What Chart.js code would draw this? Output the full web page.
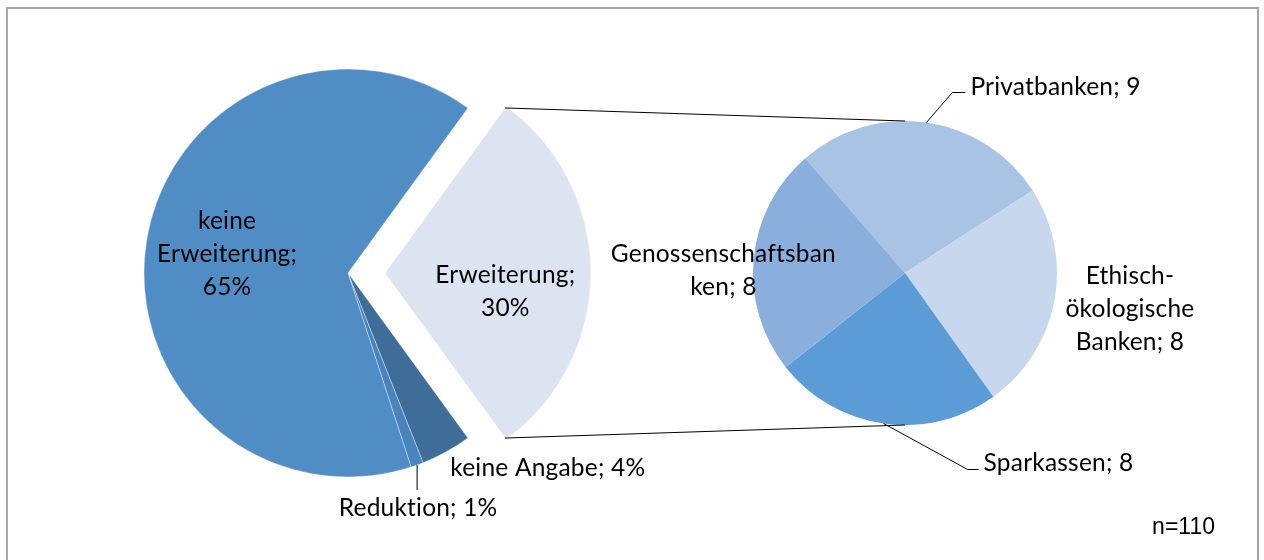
<!DOCTYPE html>
<html>
<head>
<meta charset="utf-8">
<script src="https://cdn.jsdelivr.net/npm/chart.js@4"></script>
<style>
  html, body { margin: 0; padding: 0; background: #fff; }
  #wrap { position: relative; width: 1264px; height: 560px; overflow: hidden; }
  #frame { position: absolute; left: 6px; top: 7px; width: 1253px; height: 560px; border: 2px solid #a6a6a6; box-sizing: border-box; }
  canvas { position: absolute; }
  #mainPie { left: 98px; top: 23px; }
  #subPie { left: 735px; top: 103px; }
  #overlay { left: 0; top: 0; pointer-events: none; }
</style>
</head>
<body>
<div id="wrap">
  <div id="frame"></div>
  <canvas id="mainPie" width="500" height="500"></canvas>
  <canvas id="subPie" width="340" height="340"></canvas>
  <canvas id="overlay" width="1264" height="560"></canvas>
</div>
<script>
// Main pie (percent of n=110), in drawing order clockwise
const mainLabels = ['Erweiterung', 'keine Angabe', 'Reduktion', 'keine Erweiterung'];
const mainValues = [30, 4, 1, 65];
const mainColors = ['#dce4f2', '#3f6d99', '#4a84bc', '#508dc4'];

// Secondary pie: split of "Erweiterung"
const subLabels = ['Privatbanken', 'Ethisch-ökologische Banken', 'Sparkassen', 'Genossenschaftsbanken'];
const subValues = [9, 8, 8, 8];
const subColors = ['#a9c3e4', '#c6d7ee', '#5b9bd6', '#8aafdd'];

const sampleSize = 110;

const FONT = '24.5px Lato';
const LINE_H = 33;
const EXPLODE = 37;

const baseOpts = {
  responsive: false,
  animation: false,
  events: [],
  plugins: { legend: { display: false }, tooltip: { enabled: false } },
  layout: { padding: 0 }
};

const mainChart = new Chart(document.getElementById('mainPie'), {
  type: 'pie',
  data: {
    labels: mainLabels,
    datasets: [{
      data: mainValues,
      backgroundColor: mainColors,
      borderColor: 'rgba(255,255,255,0.35)',
      borderWidth: 1,
      offset: mainValues.map((v, i) => i === 0 ? EXPLODE * 4 : 0)
    }]
  },
  options: Object.assign({}, baseOpts, { rotation: 36, radius: 204 })
});

const subChart = new Chart(document.getElementById('subPie'), {
  type: 'pie',
  data: {
    labels: subLabels,
    datasets: [{
      data: subValues,
      backgroundColor: subColors,
      borderWidth: 0
    }]
  },
  options: Object.assign({}, baseOpts, { rotation: -41, radius: 152 })
});

function drawOverlay() {
  const ctx = document.getElementById('overlay').getContext('2d');
  const mainBox = document.getElementById('mainPie');
  const subBox = document.getElementById('subPie');
  const mArcs = mainChart.getDatasetMeta(0).data;
  const sArcs = subChart.getDatasetMeta(0).data;

  const geo = (arc, canvas, shift) => {
    const mid = (arc.startAngle + arc.endAngle) / 2;
    const s = shift || 0;
    return {
      x: canvas.offsetLeft + arc.x + Math.cos(mid) * s,
      y: canvas.offsetTop + arc.y + Math.sin(mid) * s,
      r: arc.outerRadius, mid, start: arc.startAngle, end: arc.endAngle
    };
  };
  const at = (g, ang, f) => ({ x: g.x + Math.cos(ang) * g.r * f, y: g.y + Math.sin(ang) * g.r * f });

  ctx.strokeStyle = '#000';
  ctx.lineWidth = 1;
  const line = pts => {
    ctx.beginPath();
    pts.forEach((p, i) => i ? ctx.lineTo(p.x, p.y) : ctx.moveTo(p.x, p.y));
    ctx.stroke();
  };

  // connector lines from the exploded slice to the secondary pie
  const ex = geo(mArcs[0], mainBox, EXPLODE);
  const sc = geo(sArcs[0], subBox);
  line([at(ex, ex.start, 1), { x: sc.x, y: sc.y - sc.r }]);
  line([at(ex, ex.end, 1), { x: sc.x, y: sc.y + sc.r }]);

  ctx.fillStyle = '#000';
  ctx.font = FONT;
  ctx.letterSpacing = '0.2px'; // also stops the "ti" ligature
  ctx.textBaseline = 'middle';
  const text = (lines, x, y, align) => {
    ctx.textAlign = align || 'center';
    const top = y - (lines.length - 1) * LINE_H / 2;
    lines.forEach((l, i) => ctx.fillText(l, x, top + i * LINE_H));
  };

  // main pie labels
  let p = at(ex, ex.mid, 0.59);
  text(['Erweiterung;', mainValues[0] + '%'], p.x, p.y + 19);

  const g3 = geo(mArcs[3], mainBox);
  p = at(g3, g3.mid, 0.6);
  text(['keine', 'Erweiterung;', mainValues[3] + '%'], p.x, p.y);

  const g1 = geo(mArcs[1], mainBox);
  p = at(g1, g1.mid, 1);
  text([mainLabels[1] + '; ' + mainValues[1] + '%'], p.x + 4, p.y + 16, 'left');

  const g2 = geo(mArcs[2], mainBox);
  p = at(g2, g2.mid, 1);
  line([p, { x: p.x, y: p.y + 25 }]);
  text([mainLabels[2] + '; ' + mainValues[2] + '%'], p.x + 1, p.y + 43);

  // secondary pie labels
  const s0 = geo(sArcs[0], subBox);
  p = at(s0, s0.mid, 1);
  line([p, { x: p.x + 26, y: p.y - 30 }, { x: p.x + 39, y: p.y - 30 }]);
  text([subLabels[0] + '; ' + subValues[0]], p.x + 44, p.y - 35, 'left');

  const s1 = geo(sArcs[1], subBox);
  p = at(s1, s1.mid, 1.48);
  text(['Ethisch-', 'ökologische', 'Banken; ' + subValues[1]], p.x + 4, p.y - 6);

  const s2 = geo(sArcs[2], subBox);
  p = at(s2, s2.mid, 1);
  line([p, { x: p.x + 84, y: p.y + 46 }, { x: p.x + 95, y: p.y + 46 }]);
  text([subLabels[2] + '; ' + subValues[2]], p.x + 100, p.y + 40, 'left');

  const s3 = geo(sArcs[3], subBox);
  p = at(s3, s3.mid, 1.2);
  text(['Genossenschaftsban', 'ken; ' + subValues[3]], p.x, p.y + 15);

  // sample size note
  ctx.letterSpacing = '0px';
  ctx.font = '23px "Liberation Sans"';
  ctx.textAlign = 'right';
  ctx.fillText('n=' + sampleSize, 1215, 528);
}

drawOverlay();
</script>
</body>
</html>
